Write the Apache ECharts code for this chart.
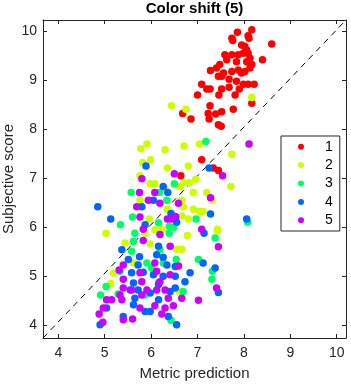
<!DOCTYPE html>
<html>
<head>
<meta charset="utf-8">
<script src="https://cdn.jsdelivr.net/npm/echarts@6/dist/echarts.min.js"></script>
<style>
  html, body { margin: 0; padding: 0; background: #fff; }
  #chart { width: 351px; height: 385px; }
</style>
</head>
<body>
<div id="chart"></div>
<script>
// axis limits and ticks
const xMin = 3.67, xMax = 10.2;
const yMin = 3.73, yMax = 10.22;
const xTicks = [4, 5, 6, 7, 8, 9, 10];
const yTicks = [4, 5, 6, 7, 8, 9, 10];

const groupNames = ['1', '2', '3', '4', '5'];
const groupColors = ['#ff0000', '#ccff00', '#00ff66', '#0066ff', '#cc00ff'];

// [metric prediction, subjective score]
const pts1 = [[8.17,10.02],[7.86,9.97],[8.09,9.90],[7.74,9.85],[7.76,9.80],[8.11,9.85],[8.60,9.73],[7.95,9.71],[8.02,9.68],[8.06,9.61],[7.99,9.54],[7.59,9.51],[7.74,9.51],[7.88,9.51],[8.09,9.54],[8.13,9.44],[7.63,9.41],[7.84,9.37],[8.06,9.37],[8.40,9.41],[7.48,9.31],[8.17,9.31],[7.41,9.24],[7.88,9.20],[8.13,9.24],[7.28,9.19],[7.74,9.17],[7.56,9.14],[8.02,9.17],[7.45,9.07],[7.52,9.07],[7.95,9.14],[7.68,9.01],[7.84,8.97],[7.09,8.91],[7.99,8.91],[8.09,8.91],[8.22,8.91],[7.68,8.85],[7.52,8.81],[7.20,8.81],[7.27,8.81],[7.90,8.81],[7.00,8.69],[7.46,8.69],[7.81,8.69],[8.17,8.52],[7.27,8.47],[7.77,8.40],[6.68,8.31],[7.23,8.31],[7.39,8.30],[7.52,8.35],[6.86,8.20],[7.25,8.20],[7.45,8.08],[7.51,8.05],[7.09,7.37],[6.64,7.04],[7.34,7.20],[7.45,7.15]];
const pts2 = [[6.44,8.47],[6.75,8.40],[8.17,8.64],[5.91,7.69],[5.78,7.59],[6.30,7.57],[6.71,7.65],[7.04,7.69],[7.74,7.48],[5.82,7.31],[5.99,7.37],[6.35,7.20],[6.80,7.24],[5.76,7.04],[5.98,6.88],[6.08,6.88],[6.62,6.82],[6.71,6.90],[6.82,6.90],[6.96,6.97],[7.72,6.82],[6.91,6.70],[7.20,6.70],[6.30,6.77],[5.76,6.54],[7.31,6.54],[6.66,6.54],[6.69,6.41],[6.35,6.36],[6.91,6.36],[7.04,6.31],[7.12,6.31],[5.96,6.16],[6.66,6.22],[6.80,6.16],[7.43,5.95],[5.03,5.87],[5.44,5.67],[6.78,5.82],[7.43,5.92],[6.55,5.54],[6.66,5.54],[5.19,5.05],[5.13,4.84],[5.87,5.87],[6.08,5.94],[6.23,5.94],[5.98,5.65],[6.61,4.68],[5.62,5.26]];
const pts3 = [[7.18,7.74],[6.50,6.88],[5.57,6.70],[6.18,6.70],[6.34,6.54],[5.60,6.20],[6.97,6.16],[5.34,6.04],[6.16,6.08],[6.39,6.01],[5.65,5.87],[6.39,5.87],[6.49,5.99],[7.38,5.77],[5.62,5.70],[6.19,5.53],[5.58,5.50],[5.91,5.26],[6.54,5.33],[7.02,5.33],[7.31,4.93],[7.32,5.09],[5.33,5.09],[4.91,4.61],[5.03,4.78],[5.29,4.63],[6.26,5.26],[6.69,4.68],[6.43,4.09],[5.87,4.61],[6.01,5.16],[6.16,4.86],[8.08,6.09]];
const pts4 = [[5.89,7.24],[7.25,7.20],[6.26,6.82],[6.36,6.70],[6.05,6.54],[5.80,6.41],[4.85,6.41],[5.13,6.16],[6.43,6.27],[6.53,6.20],[7.28,6.26],[5.87,6.04],[6.55,6.09],[8.06,6.16],[7.14,5.87],[5.37,5.53],[6.16,5.60],[6.12,5.43],[6.26,5.38],[5.75,5.39],[5.51,5.33],[5.72,5.22],[6.34,5.22],[6.52,5.19],[7.12,5.26],[7.38,5.16],[6.84,5.06],[5.58,5.06],[5.83,5.07],[6.05,5.02],[6.26,4.99],[6.52,4.99],[6.73,4.88],[5.62,4.85],[6.16,4.82],[6.52,4.75],[7.45,4.66],[5.72,4.71],[5.98,4.65],[6.16,4.51],[5.65,4.54],[5.55,4.71],[5.04,4.34],[5.62,4.41],[5.98,4.27],[6.37,4.17],[5.40,4.17],[6.55,4.00],[4.90,4.00],[6.41,4.68],[5.87,4.27]];
const pts5 = [[6.50,7.08],[5.80,6.98],[7.54,7.04],[8.11,7.69],[5.75,6.70],[6.08,6.70],[5.94,6.54],[6.19,6.48],[6.59,6.48],[7.28,6.59],[5.69,6.41],[5.76,6.20],[6.35,6.16],[6.44,6.16],[6.52,6.21],[7.09,5.95],[5.83,5.95],[6.19,5.84],[5.83,5.72],[7.45,5.59],[6.41,5.60],[5.40,5.22],[5.31,5.12],[5.76,5.06],[6.08,5.26],[6.12,5.09],[6.41,5.02],[5.40,4.93],[5.80,4.88],[6.19,4.88],[5.40,4.75],[5.58,4.71],[5.91,4.71],[6.12,4.71],[6.30,4.71],[5.80,4.61],[5.33,4.61],[5.04,4.51],[5.15,4.51],[5.37,4.51],[6.37,4.54],[6.66,4.54],[7.02,4.50],[7.41,4.75],[6.59,5.20],[4.97,4.34],[5.76,4.34],[6.08,4.39],[6.30,4.34],[6.48,4.39],[4.88,4.22],[6.23,4.22],[5.40,4.10],[5.60,4.12],[4.96,4.05]];
const groups = [pts1, pts2, pts3, pts4, pts5];

const font = '"Liberation Sans", Arial, Helvetica, sans-serif';
const axisColor = '#262626';

function boxAxis(pos, lo, hi, ticks, main) {
    return {
        type: 'value',
        position: pos,
        min: lo,
        max: hi,
        splitLine: { show: false },
        axisLine: { show: true, onZero: false, lineStyle: { color: axisColor, width: 1 } },
        axisTick: { show: true, inside: true, length: 4, customValues: ticks, lineStyle: { color: axisColor } },
        axisLabel: main ? {
            show: true, customValues: ticks, fontSize: 14, color: axisColor, fontFamily: font,
            margin: pos === 'left' ? 6 : 8
        } : { show: false }
    };
}

const chart = echarts.init(document.getElementById('chart'));

const xBottom = Object.assign(boxAxis('bottom', xMin, xMax, xTicks, true), {
    name: 'Metric prediction', nameLocation: 'middle', nameGap: 28, nameMoveOverlap: false,
    nameTextStyle: { fontSize: 15, color: axisColor, fontFamily: font }
});
const yLeft = Object.assign(boxAxis('left', yMin, yMax, yTicks, true), {
    name: 'Subjective score', nameLocation: 'middle', nameGap: 27, nameMoveOverlap: false,
    nameTextStyle: { fontSize: 15, color: axisColor, fontFamily: font }
});

const series = [{
    type: 'line',
    data: [[xMin, yMin], [xMax, yMax]],
    symbol: 'none',
    silent: true,
    lineStyle: { color: '#000', width: 1, type: [6, 5] },
    z: 1
}];
groups.forEach((g, i) => {
    series.push({
        name: groupNames[i],
        type: 'scatter',
        data: g,
        symbolSize: 7.5,
        itemStyle: { color: groupColors[i], opacity: 1 },
        z: 2 + i
    });
});

chart.setOption({
    animation: false,
    title: {
        text: 'Color shift (5)',
        left: 194.5,
        top: 0,
        textAlign: 'center',
        padding: [1, 0, 0, 0],
        textStyle: { fontSize: 15, fontWeight: 'bold', color: '#000', fontFamily: font }
    },
    grid: { left: 43, right: 5, top: 20, bottom: 47, containLabel: false, outerBoundsMode: 'none' },
    legend: {
        orient: 'vertical',
        left: 281,
        top: 136,
        data: groupNames,
        icon: 'circle',
        itemWidth: 14,
        itemHeight: 6,
        itemGap: 4.4,
        padding: [3.7, 7, 3.7, 17],
        borderColor: axisColor,
        borderWidth: 1,
        backgroundColor: '#fff',
        textStyle: { fontSize: 14, color: '#000', fontFamily: font, lineHeight: 12, padding: [0, 0, 0, 12] }
    },
    xAxis: [xBottom, boxAxis('top', xMin, xMax, xTicks, false)],
    yAxis: [yLeft, boxAxis('right', yMin, yMax, yTicks, false)],
    series: series
});
</script>
</body>
</html>
